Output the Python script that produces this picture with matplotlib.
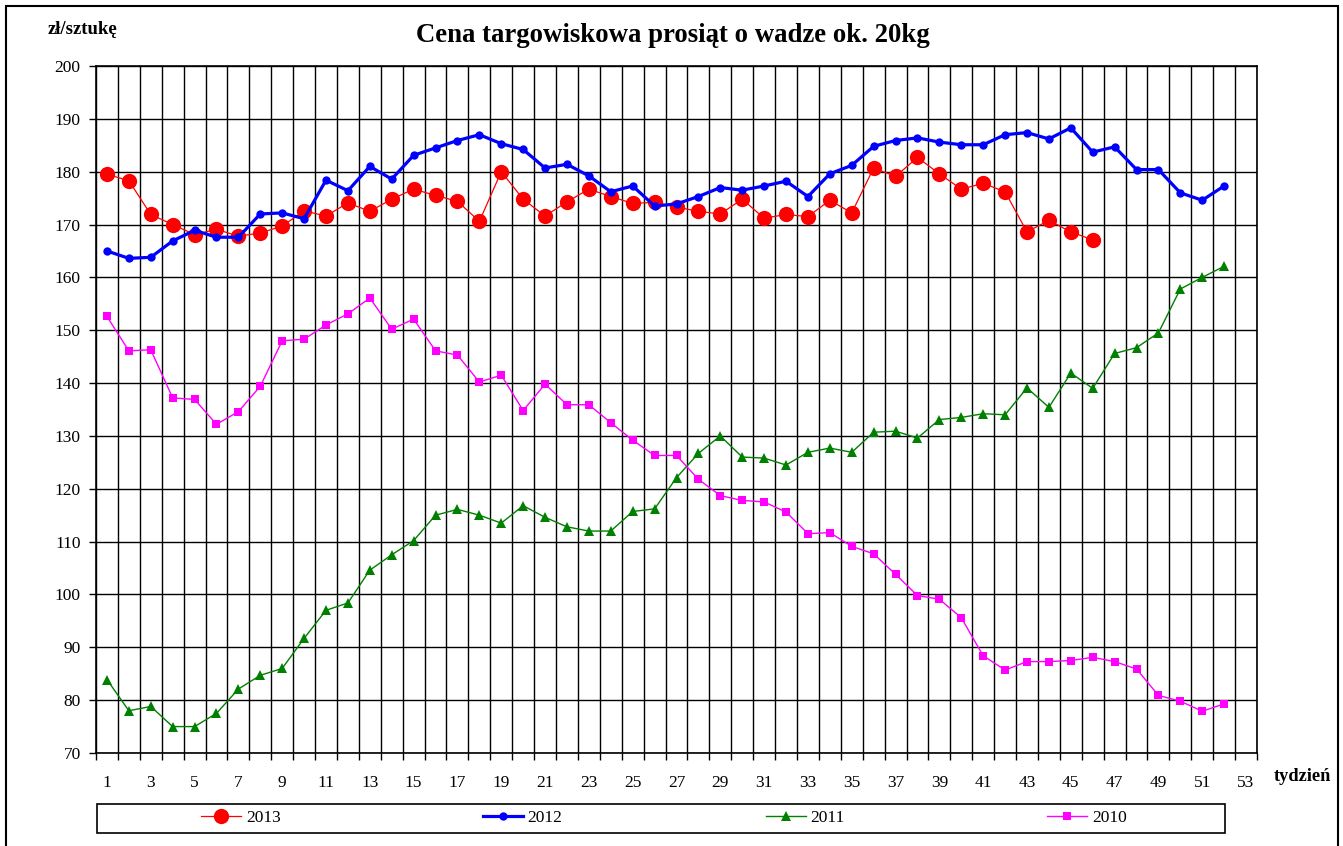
import matplotlib
matplotlib.use('Agg')
import matplotlib.pyplot as plt
import numpy as np
from matplotlib.patches import Rectangle

plt.rcParams['font.family'] = ['Liberation Serif', 'DejaVu Serif']

# ceny tygodniowe (zł/sztukę)
y2013 = [179.5, 178.3, 171.9, 170.0, 168.1, 169.1, 167.8, 168.4, 169.7, 172.6,
         171.6, 174.1, 172.5, 174.8, 176.7, 175.5, 174.4, 170.6, 180.0, 174.8,
         171.6, 174.3, 176.7, 175.3, 174.0, 174.2, 173.3, 172.5, 172.0, 174.8,
         171.2, 171.9, 171.5, 174.6, 172.2, 180.7, 179.1, 182.7, 179.6, 176.7,
         177.8, 176.2, 168.6, 170.8, 168.6, 167.1]
y2012 = [165.0, 163.6, 163.8, 166.9, 168.9, 167.6, 167.6, 172.0, 172.2, 171.1,
         178.4, 176.4, 181.0, 178.6, 183.1, 184.5, 185.9, 187.0, 185.3, 184.2,
         180.7, 181.4, 179.2, 176.2, 177.3, 173.5, 173.9, 175.3, 177.0, 176.5,
         177.3, 178.2, 175.3, 179.6, 181.2, 184.8, 185.9, 186.4, 185.6, 185.1,
         185.1, 187.0, 187.4, 186.2, 188.3, 183.7, 184.7, 180.4, 180.4, 176.0,
         174.6, 177.3]
y2011 = [83.9, 78.0, 78.8, 75.0, 75.0, 77.5, 82.1, 84.7, 86.0, 91.7,
         97.0, 98.4, 104.6, 107.5, 110.2, 115.0, 116.1, 115.0, 113.5, 116.8,
         114.6, 112.8, 112.0, 112.0, 115.7, 116.2, 122.1, 126.7, 130.0, 126.0,
         125.8, 124.5, 126.9, 127.7, 126.9, 130.7, 130.9, 129.6, 133.1, 133.5,
         134.2, 134.0, 139.1, 135.4, 141.9, 139.0, 145.6, 146.7, 149.5, 157.8,
         160.0, 162.1]
y2010 = [152.6, 146.1, 146.3, 137.2, 136.9, 132.2, 134.6, 139.4, 148.0, 148.3,
         151.0, 153.1, 156.1, 150.2, 152.1, 146.1, 145.3, 140.2, 141.5, 134.8,
         139.8, 135.9, 135.9, 132.5, 129.2, 126.3, 126.3, 121.8, 118.7, 117.8,
         117.5, 115.6, 111.5, 111.7, 109.1, 107.7, 103.8, 99.8, 99.1, 95.6,
         88.4, 85.7, 87.3, 87.3, 87.5, 88.1, 87.3, 85.9, 80.9, 79.8,
         77.9, 79.3]

series = [
    ('2013', y2013, '#FF0000', 'o', 11, 0.9, 3),
    ('2012', y2012, '#0000FF', 'o', 6, 2.3, 4),
    ('2011', y2011, '#008000', '^', 7, 1.0, 2),
    ('2010', y2010, '#FF00FF', 's', 6, 1.0, 2),
]

W, H = 1343, 846
fig = plt.figure(figsize=(W / 100, H / 100), dpi=100)
fig.patch.set_facecolor('white')
ax = fig.add_axes([96 / W, 1 - 753 / H, (1257 - 96) / W, (753 - 66) / H])

handles = []
for name, vals, col, mk, ms, lw, z in series:
    weeks = np.arange(1, len(vals) + 1)
    ln, = ax.plot(weeks, vals, color=col, marker=mk, markersize=ms, linewidth=lw,
                  markeredgewidth=0, zorder=z, label=name)
    handles.append(ln)

ax.set_xlim(0.5, 53.5)
ax.set_ylim(70, 200)
ax.set_xticks(np.arange(1, 54, 2))
ax.set_xticks(np.arange(0.5, 54, 1), minor=True)
ax.set_yticks(np.arange(70, 201, 10))
ax.tick_params(axis='x', which='major', length=0, pad=16, labelsize=12.5)
ax.tick_params(axis='x', which='minor', length=5, width=1, direction='out')
ax.tick_params(axis='y', which='major', length=5, width=1, pad=6, labelsize=12.5)
ax.grid(True, which='minor', axis='x', color='black', linewidth=1)
ax.grid(True, which='major', axis='y', color='black', linewidth=1)
for sp in ax.spines.values():
    sp.set_linewidth(1.2)
ax.set_axisbelow(True)

fig.text(673 / W, 1 - 36 / H, 'Cena targowiskowa prosiąt o wadze ok. 20kg',
         ha='center', va='center', fontsize=19.3, fontweight='bold')
fig.text(82 / W, 1 - 29 / H, 'zł/sztukę', ha='center', va='center',
         fontsize=13.5, fontweight='bold')
fig.text(1302 / W, 1 - 776 / H, 'tydzień', ha='center', va='center',
         fontsize=13.2, fontweight='bold')

# ramka legendy i wpisy rozłożone równo
fig.patches.append(Rectangle((97 / W, 1 - 833 / H), (1225 - 97) / W, (833 - 804) / H,
                             transform=fig.transFigure, fill=False,
                             edgecolor='black', linewidth=1.2))
centers = [241, 523, 805, 1087]
for h, cx in zip(handles, centers):
    fig.legend(handles=[h], loc='center', bbox_to_anchor=(cx / W, 1 - 818 / H),
               frameon=False, fontsize=12.5, handlelength=2.3, handletextpad=0.25,
               borderpad=0, markerscale=1.0)

# ramka wykresu
fig.patches.append(Rectangle((6 / W, -0.05), (1338 - 6) / W, 1.05 - 6 / H,
                             transform=fig.transFigure, fill=False,
                             edgecolor='black', linewidth=1.5))

fig.savefig('out.png', dpi=100)
